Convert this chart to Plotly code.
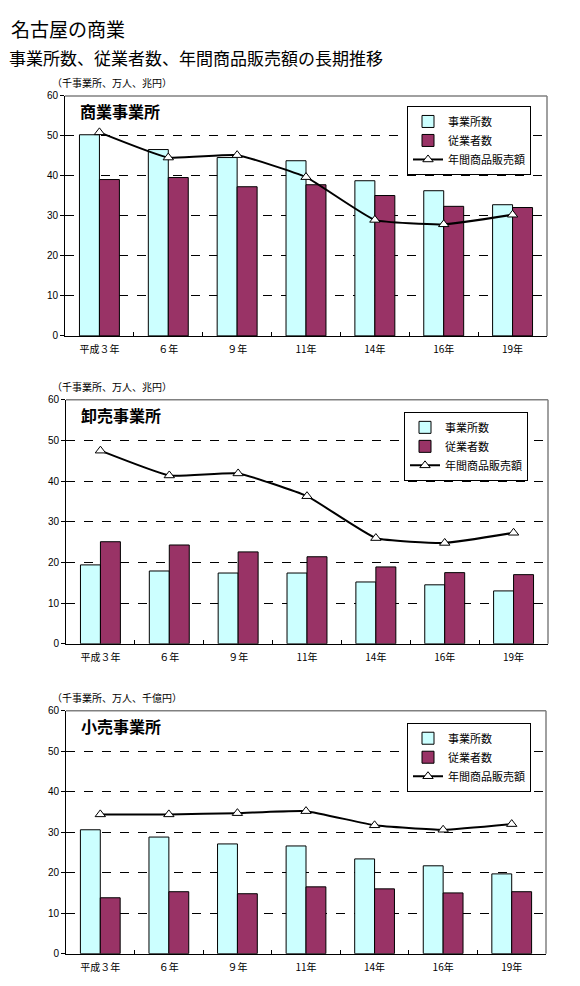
import plotly.graph_objects as go

years = ["平成３年", "６年", "９年", "11年", "14年", "16年", "19年"]

# 商業事業所
shogyo_jigyosho = [50.3, 46.6, 44.6, 43.8, 38.8, 36.3, 32.8]
shogyo_jugyosha = [39.1, 39.6, 37.3, 37.8, 35.1, 32.4, 32.1]
shogyo_hanbai = [50.9, 44.6, 45.2, 39.7, 29.0, 27.9, 30.3]

# 卸売事業所
oroshi_jigyosho = [19.4, 17.9, 17.4, 17.4, 15.2, 14.5, 13.0]
oroshi_jugyosha = [25.1, 24.3, 22.6, 21.4, 18.9, 17.5, 17.0]
oroshi_hanbai = [47.5, 41.4, 41.9, 36.3, 26.0, 24.8, 27.3]

# 小売事業所
kouri_jigyosho = [30.6, 28.8, 27.1, 26.6, 23.4, 21.7, 19.7]
kouri_jugyosha = [13.8, 15.3, 14.8, 16.5, 16.0, 15.0, 15.3]
kouri_hanbai = [34.4, 34.4, 34.7, 35.2, 31.7, 30.6, 32.0]

panel_titles = ["商業事業所", "卸売事業所", "小売事業所"]
unit_labels = ["（千事業所、万人、兆円）", "（千事業所、万人、兆円）", "（千事業所、万人、千億円）"]

# the page body keeps its 8px margin, so the figure is made 16px smaller
PAD = 8
W, H = 580 - 2 * PAD, 986 - 2 * PAD
JP = "Noto Sans CJK JP"

def px(x):
    return (x - PAD) / W

def py(y):
    # small vertical correction measured against the screenshot
    return 1 - ((y - 13) / 0.988) / H

# plot areas in window pixels: left, right, top, bottom
boxes = [(65, 547, 95, 335), (66, 548, 399, 643), (66, 546, 710, 953)]
legend_pos = [(407, 105), (404, 411), (407, 722)]
panels = [
    (shogyo_jigyosho, shogyo_jugyosha, shogyo_hanbai),
    (oroshi_jigyosho, oroshi_jugyosha, oroshi_hanbai),
    (kouri_jigyosho, kouri_jugyosha, kouri_hanbai),
]

fig = go.Figure()
layout = dict(
    width=W, height=H,
    margin=dict(l=0, r=0, t=0, b=0),
    paper_bgcolor="white", plot_bgcolor="white",
    barmode="group", bargap=0.42, bargroupgap=0,
    font=dict(family=JP, size=10, color="black"),
    annotations=[], shapes=[],
)

for i, (jig, jug, han) in enumerate(panels):
    n = "" if i == 0 else str(i + 1)
    xa, ya = "x" + n, "y" + n
    leg = "legend" + n
    fig.add_trace(go.Bar(x=years, y=jig, name="事業所数", xaxis=xa, yaxis=ya,
                         marker=dict(color="#CCFFFF", line=dict(color="black", width=1)),
                         legend=leg))
    fig.add_trace(go.Bar(x=years, y=jug, name="従業者数", xaxis=xa, yaxis=ya,
                         marker=dict(color="#993366", line=dict(color="black", width=1)),
                         legend=leg))
    fig.add_trace(go.Scatter(x=years, y=han, name="年間商品販売額", xaxis=xa, yaxis=ya,
                             mode="lines+markers",
                             line=dict(color="black", width=2, shape="spline", smoothing=0.4),
                             marker=dict(symbol="triangle-up", size=9, color="white",
                                         line=dict(color="black", width=1)),
                             legend=leg))

    l, r, t, b = boxes[i]
    layout["xaxis" + n] = dict(
        domain=[px(l), px(r)], anchor=ya, type="category",
        showline=True, linecolor="black", linewidth=1,
        ticks="inside", tickson="boundaries", ticklen=4, tickcolor="black",
        tickfont=dict(family=JP, size=10), showgrid=False,
        ticklabelstandoff=4,
    )
    layout["yaxis" + n] = dict(
        domain=[py(b), py(t)], anchor=xa, range=[0, 60], dtick=10,
        showline=True, linecolor="black", linewidth=1,
        ticks="outside", ticklen=4, tickcolor="black",
        tickfont=dict(family="Liberation Sans", size=10),
        showgrid=True, gridcolor="black", griddash="dash", gridwidth=1,
        zeroline=False,
    )
    # gray frame top/right
    layout["shapes"].append(dict(type="line", xref="paper", yref="paper",
                                 x0=px(l), x1=px(r), y0=py(t), y1=py(t),
                                 line=dict(color="#808080", width=1.5)))
    layout["shapes"].append(dict(type="line", xref="paper", yref="paper",
                                 x0=px(r), x1=px(r), y0=py(t), y1=py(b),
                                 line=dict(color="#808080", width=1.5)))
    lx, ly = legend_pos[i]
    layout[leg] = dict(
        x=px(lx), y=py(ly), xanchor="left", yanchor="top",
        bgcolor="white", bordercolor="black", borderwidth=1,
        font=dict(family=JP, size=11), itemwidth=30,
        traceorder="normal",
    )
    layout["annotations"].append(dict(
        text="<b>" + panel_titles[i] + "</b>", xref="paper", yref="paper",
        x=px(l + 13), y=py(t + 15), xanchor="left", yanchor="middle",
        showarrow=False, font=dict(family=JP, size=16)))
    layout["annotations"].append(dict(
        text=unit_labels[i], xref="paper", yref="paper",
        x=px(50), y=py(t - 13), xanchor="left", yanchor="middle",
        showarrow=False, font=dict(family=JP, size=10)))

# main title pinned to the top edge so nothing is clipped
layout["annotations"].append(dict(
    text="名古屋の商業", xref="paper", yref="paper", x=px(10), y=1,
    xanchor="left", yanchor="top", showarrow=False, borderpad=0,
    font=dict(family=JP, size=19)))
layout["annotations"].append(dict(
    text="事業所数、従業者数、年間商品販売額の長期推移", xref="paper", yref="paper",
    x=px(8), y=py(57), xanchor="left", yanchor="middle", showarrow=False,
    borderpad=0, font=dict(family=JP, size=17)))

fig.update_layout(**layout)
fig.write_html("out.html")
